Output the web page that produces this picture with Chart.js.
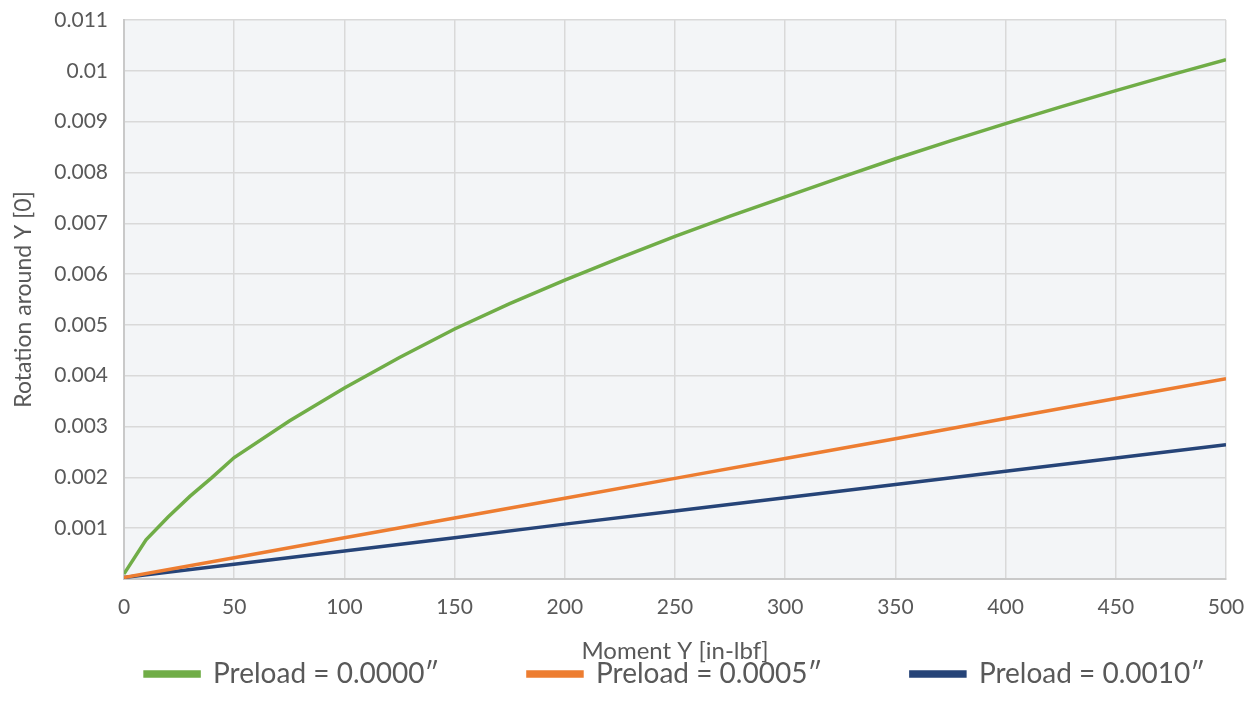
<!DOCTYPE html>
<html>
<head>
<meta charset="utf-8">
<script src="https://cdn.jsdelivr.net/npm/chart.js@4/dist/chart.umd.min.js"></script>
<style>
  html, body { margin: 0; padding: 0; background: #ffffff; }
  #wrap { width: 1251px; height: 712px; position: relative; }
</style>
</head>
<body>
<div id="wrap"><canvas id="c" width="1251" height="712"></canvas></div>
<script>
// ---- data ----
const momentsCurve = [0, 10, 20, 30, 40, 50, 75, 100, 125, 150, 175, 200, 225, 250, 275, 300, 325, 350, 375, 400, 425, 450, 475, 500];
const preload0000 = [0.0001, 0.00077, 0.00122, 0.00163, 0.00200, 0.00239, 0.00311, 0.00376, 0.00436, 0.00492, 0.00542, 0.00588, 0.00632, 0.00674, 0.00714, 0.00752, 0.00790, 0.00827, 0.00862, 0.00896, 0.00929, 0.00961, 0.00992, 0.01022];
const momentsLinear = [0, 50, 100, 150, 200, 250, 300, 350, 400, 450, 500];
const preload0005 = [0.00003, 0.00042, 0.00081, 0.00120, 0.00159, 0.00198, 0.00237, 0.00276, 0.00316, 0.00355, 0.00394];
const preload0010 = [0.00003, 0.00029, 0.00055, 0.00081, 0.00108, 0.00134, 0.00160, 0.00186, 0.00212, 0.00238, 0.00264];
const seriesNames = ['Preload = 0.0000\u2033', 'Preload = 0.0005\u2033', 'Preload = 0.0010\u2033'];
const xTickLabels = ['0', '50', '100', '150', '200', '250', '300', '350', '400', '450', '500'];
const yTickLabels = ['', '0.001', '0.002', '0.003', '0.004', '0.005', '0.006', '0.007', '0.008', '0.009', '0.01', '0.011'];
const xTitle = 'Moment Y [in-lbf]';
const yTitle = 'Rotation around Y [0]';

const colors = ['#70AD47', '#ED7D31', '#264478'];
const FONT = 'Lato';
const TEXT = '#595959';

function pts(xs, vals) { return xs.map((m, i) => ({ x: m, y: vals[i] })); }

const plotBg = {
  id: 'plotBg',
  beforeDraw(chart) {
    const { ctx, chartArea: a } = chart;
    ctx.save();
    ctx.fillStyle = '#F3F5F7';
    ctx.fillRect(a.left, a.top, a.right - a.left, a.bottom - a.top);
    ctx.restore();
  }
};

// spacer so legend items are spread like the reference
const pad = '\u00a0'.repeat(11);
const seriesData = [pts(momentsCurve, preload0000), pts(momentsLinear, preload0005), pts(momentsLinear, preload0010)];

const gridOpts = { color: '#D9D9D9', lineWidth: 1.5, drawTicks: true, tickLength: 14, tickColor: 'rgba(0,0,0,0)' };

new Chart(document.getElementById('c'), {
  type: 'line',
  data: {
    datasets: seriesData.map((d, i) => ({
      label: seriesNames[i] + (i < 2 ? pad : ''),
      data: d,
      borderColor: colors[i],
      backgroundColor: colors[i],
      borderWidth: 3.5,
      pointRadius: 0,
      tension: 0,
      fill: false
    }))
  },
  options: {
    responsive: false,
    animation: false,
    devicePixelRatio: 1,
    layout: { padding: { top: 20, right: 25, left: 0, bottom: 14 } },
    plugins: {
      legend: {
        position: 'bottom',
        fullSize: false,
        labels: {
          boxWidth: 54,
          boxHeight: 4,
          padding: 10,
          color: TEXT,
          font: { family: FONT, size: 28 }
        }
      },
      tooltip: { enabled: false }
    },
    scales: {
      x: {
        type: 'linear',
        min: 0, max: 500,
        ticks: {
          stepSize: 50,
          padding: 2,
          color: TEXT,
          font: { family: FONT, size: 21 },
          callback: (v) => { const i = Math.round(v / 50); return xTickLabels[i] ?? ''; }
        },
        grid: gridOpts,
        border: { color: '#C9C9C9', width: 2 },
        title: { display: true, text: xTitle, color: TEXT, font: { family: FONT, size: 24 }, padding: { top: 15, bottom: -16 } }
      },
      y: {
        type: 'linear',
        min: 0, max: 0.011,
        afterFit(scale) { scale.width = 124; },
        ticks: {
          stepSize: 0.001,
          padding: 2,
          color: TEXT,
          font: { family: FONT, size: 21 },
          callback: (v) => { const i = Math.round(v / 0.001); return yTickLabels[i] ?? ''; }
        },
        grid: gridOpts,
        border: { color: '#C9C9C9', width: 2 },
        title: { display: true, text: yTitle, color: TEXT, font: { family: FONT, size: 23 }, padding: { top: 10, bottom: 0 } }
      }
    }
  },
  plugins: [plotBg]
});
</script>
</body>
</html>
